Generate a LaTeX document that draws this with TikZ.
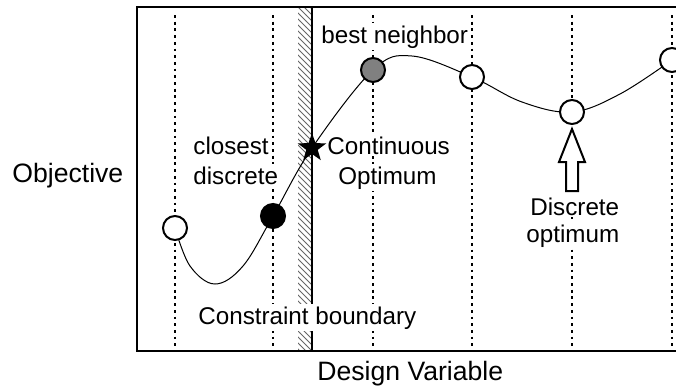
\documentclass[tikz,border=0pt]{standalone}
\usepackage{fontspec}
\setmainfont{Liberation Sans}
\usetikzlibrary{shapes.geometric,patterns}
\pgfdeclarelayer{nodelayer}
\pgfdeclarelayer{edgelayer}
\pgfsetlayers{edgelayer,nodelayer,main}
\tikzstyle{design}=[circle, draw=black, line width=1pt, fill=white, minimum size=12pt, inner sep=0pt]
\tikzstyle{optimum star}=[star, star points=5, star point ratio=2.5, fill=black, minimum size=15pt, inner sep=0pt]
\tikzstyle{grid line}=[line width=1pt, dash pattern=on 1.4pt off 1.95pt]
\tikzstyle{tag}=[fill=white, inner sep=1pt, anchor=base west, font=\fontsize{12.1}{14}\selectfont]
\tikzstyle{axis text}=[inner sep=0pt, anchor=base west, font=\fontsize{13.3}{16}\selectfont]

\begin{document}
\begin{tikzpicture}[x=0.5pt, y=-0.5pt]
	\useasboundingbox (0,0) rectangle (676,387);
	\begin{pgfonlayer}{edgelayer}
		\fill [pattern=north west lines, pattern color=black!60] (298,7) rectangle (312,351);
		\draw [line width=0.6pt] (312,7) -- (312,351);
		\foreach \xpos in {175,273,373,472,572,672}
			\draw [style=grid line] (\xpos,15) -- (\xpos,347);
		\draw [line width=0.75pt] (137,7) rectangle (700,351);
	\end{pgfonlayer}
	\begin{pgfonlayer}{nodelayer}
		\node [style=tag] (best) at (319,43) {best neighbor};
		\node [style=tag] (closest) at (191,154) {closest};
		\node [style=tag] (discrete) at (191,184) {discrete};
		\node [style=tag] (cont) at (325,154) {Continuous};
		\node [style=tag] (contopt) at (336,184) {Optimum};
		\node [style=tag] (boundary) at (196,324) {Constraint boundary};
		\node [style=tag] (disc) at (528,215) {Discrete};
		\node [style=tag] (discopt) at (524,242) {optimum};
	\end{pgfonlayer}
	\node [style=axis text] (objective) at (12,182) {Objective};
	\node [style=axis text] (variable) at (317,380) {Design Variable};
	% response curve
	\draw [line width=0.5pt] plot [smooth, tension=0.6] coordinates {(175,228) (190,266) (215,284) (243,266) (273,216) (312,148) (373,70) (412,56) (472,77) (522,102) (572,112) (620,94) (672,60)};
	\node [style=design] (d1) at (175,228) {};
	\node [style=design, fill=black] (d2) at (273,216) {};
	\node [style=design, fill=black!50] (d3) at (373,70) {};
	\node [style=design] (d4) at (472,77) {};
	\node [style=design] (d5) at (572,112) {};
	\node [style=design] (d6) at (672,60) {};
	\node [style=optimum star] (copt) at (312,148) {};
	% hollow arrow to the discrete optimum
	\draw [line width=1pt, fill=white] (572,129) -- (585,162) -- (578,162) -- (578,191) -- (566,191) -- (566,162) -- (559,162) -- cycle;
\end{tikzpicture}
\end{document}
